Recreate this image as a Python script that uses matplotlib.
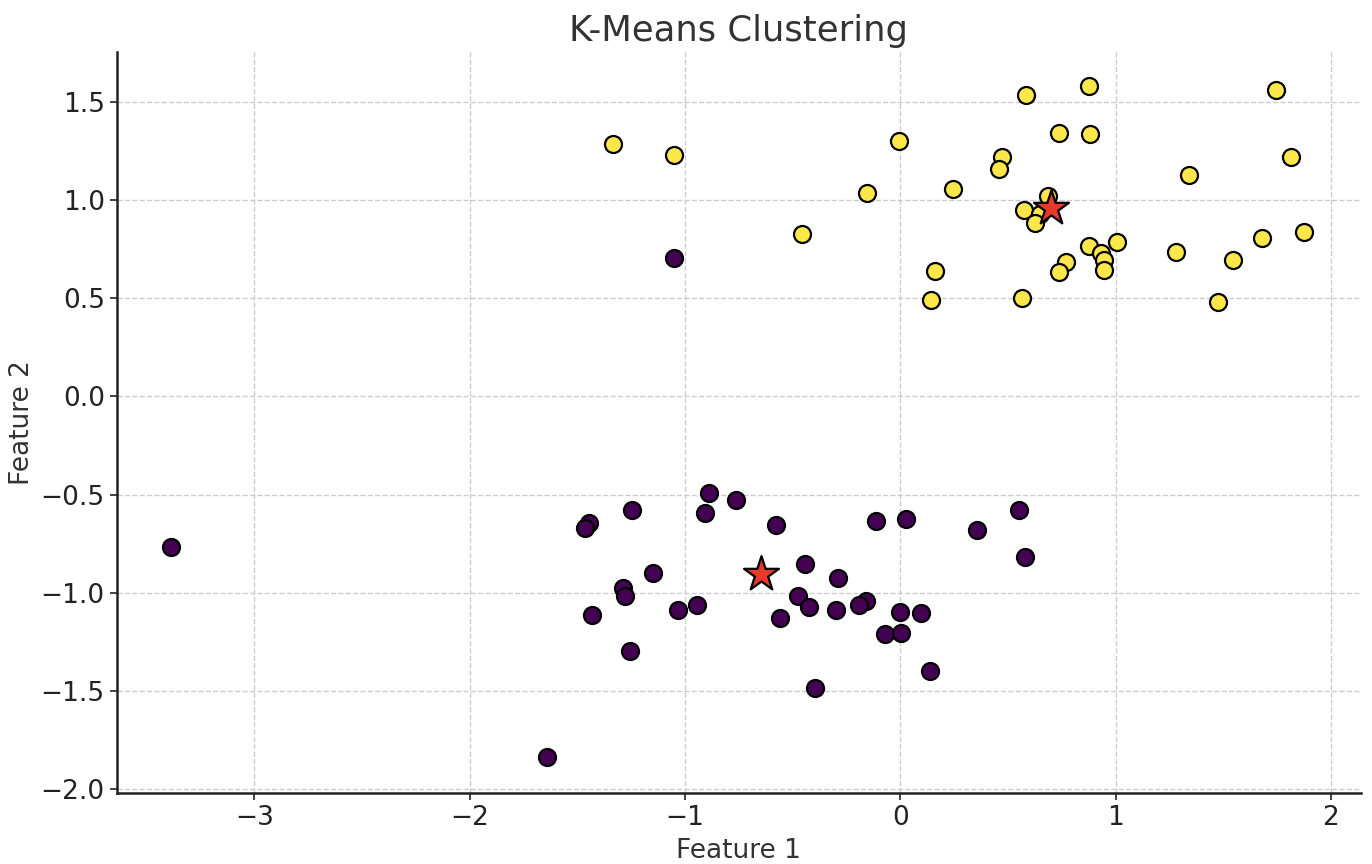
import numpy as np
import matplotlib
matplotlib.use("Agg")
import matplotlib.pyplot as plt

# cluster 1 (yellow)
x_yel = [-1.335, -1.051, -0.456, -0.153, -0.005, 0.163, 0.144, 0.243,
         0.586, 0.878, 1.743, 0.736, 0.881, 1.815, 0.474, 0.460, 1.340,
         0.687, 0.574, 0.651, 0.626, 1.876, 1.678, 0.876, 1.008, 0.933,
         0.946, 0.946, 0.771, 0.736, 1.281, 1.547, 0.566, 1.478]
y_yel = [1.284, 1.228, 0.827, 1.036, 1.300, 0.640, 0.492, 1.059,
         1.533, 1.580, 1.560, 1.344, 1.335, 1.217, 1.222, 1.157, 1.127,
         1.022, 0.949, 0.929, 0.881, 0.839, 0.809, 0.768, 0.785, 0.729,
         0.695, 0.645, 0.685, 0.636, 0.736, 0.697, 0.501, 0.479]

# cluster 0 (purple)
x_pur = [-1.051, -3.386, -1.642, 0.553, 0.577,
         -0.890, -0.764, -0.907, -1.248, -1.445, -1.464, -0.575, -0.112,
         0.026, 0.355, -0.442, -0.290, -1.150, -1.287, -1.278, -1.434,
         -1.031, -0.944, -0.473, -0.423, -0.558, -0.298, -0.158, -0.192,
         -0.002, 0.096, -0.070, 0.005, -1.256, 0.136, -0.395]
y_pur = [0.706, -0.766, -1.838, -0.579, -0.817,
         -0.489, -0.526, -0.594, -0.580, -0.645, -0.672, -0.653, -0.635,
         -0.624, -0.680, -0.853, -0.926, -0.897, -0.973, -1.014, -1.115,
         -1.086, -1.064, -1.014, -1.073, -1.130, -1.085, -1.042, -1.064,
         -1.098, -1.105, -1.208, -1.205, -1.298, -1.396, -1.484]

# centroids
cx = [0.698, -0.648]
cy = [0.958, -0.904]

plt.rcParams['font.family'] = 'DejaVu Sans'
fig, ax = plt.subplots(figsize=(13.72, 8.64), dpi=100)

ax.scatter(x_pur, y_pur, s=150, c='#440154', edgecolors='black', linewidths=1.6, zorder=3)
ax.scatter(x_yel, y_yel, s=150, c='#fbe74a', edgecolors='black', linewidths=1.6, zorder=3)
ax.scatter(cx, cy, s=700, c='#e8382a', marker='*', edgecolors='black', linewidths=1.6, zorder=4)

ax.set_xlim(-3.64, 2.14)
ax.set_ylim(-2.02, 1.755)
ax.set_xticks([-3, -2, -1, 0, 1, 2])
ax.set_yticks([-2.0, -1.5, -1.0, -0.5, 0.0, 0.5, 1.0, 1.5])

ax.grid(True, linestyle='--', color='#cccccc', linewidth=1)
ax.set_axisbelow(True)
ax.spines['top'].set_visible(False)
ax.spines['right'].set_visible(False)
ax.spines['left'].set_linewidth(1.8)
ax.spines['bottom'].set_linewidth(1.8)
ax.spines['left'].set_color('#222222')
ax.spines['bottom'].set_color('#222222')
ax.tick_params(labelsize=19, colors='#222222', length=5, width=1.2)

ax.set_title("K-Means Clustering", fontsize=25.5, color='#333333', pad=8)
ax.set_xlabel("Feature 1", fontsize=19, color='#333333', labelpad=5)
ax.set_ylabel("Feature 2", fontsize=19, color='#333333', labelpad=4)

fig.subplots_adjust(left=0.085, right=0.992, top=0.94, bottom=0.082)
fig.savefig("out.png")
